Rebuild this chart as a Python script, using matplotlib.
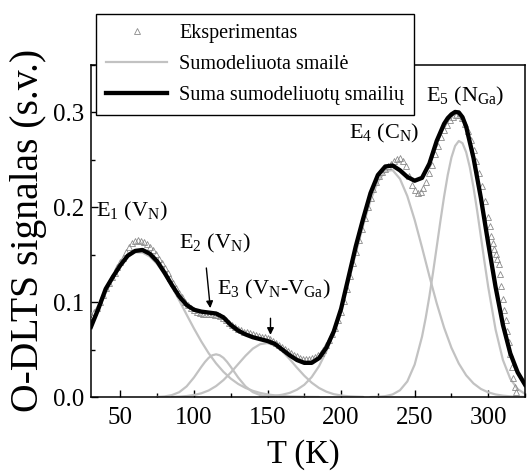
import numpy as np
import matplotlib
matplotlib.use("Agg")
import matplotlib.pyplot as plt
from matplotlib.lines import Line2D
from matplotlib.ticker import MultipleLocator, FormatStrFormatter

plt.rcParams['font.family'] = ['Liberation Serif', 'DejaVu Serif']
plt.rcParams['mathtext.fontset'] = 'custom'
plt.rcParams['mathtext.rm'] = 'Liberation Serif'
plt.rcParams['mathtext.it'] = 'Liberation Serif:italic'
plt.rcParams['mathtext.bf'] = 'Liberation Serif:bold'

# ---------------- data ----------------
# experimental O-DLTS signal
T_exp = list(range(30, 300, 2)) + list(range(300, 320, 1))
S_exp = [0.086, 0.090, 0.094, 0.100, 0.108, 0.115, 0.120, 0.126, 0.131, 0.137,
         0.142, 0.147, 0.153, 0.158, 0.162, 0.164, 0.165, 0.164, 0.163, 0.161,
         0.158, 0.155, 0.151, 0.146, 0.141, 0.136, 0.131, 0.125, 0.120, 0.115,
         0.110, 0.105, 0.100, 0.097, 0.094, 0.092, 0.090, 0.089, 0.088, 0.088,
         0.087, 0.087, 0.086, 0.086, 0.085, 0.083, 0.081, 0.078, 0.076, 0.074,
         0.072, 0.071, 0.069, 0.068, 0.067, 0.066, 0.065, 0.064, 0.063, 0.063,
         0.062, 0.061, 0.059, 0.057, 0.055, 0.053, 0.051, 0.048, 0.046, 0.044,
         0.043, 0.041, 0.040, 0.040, 0.040, 0.041, 0.042, 0.044, 0.046, 0.050,
         0.055, 0.060, 0.066, 0.073, 0.081, 0.090, 0.101, 0.114, 0.128, 0.141,
         0.153, 0.165, 0.177, 0.189, 0.200, 0.210, 0.219, 0.227, 0.233, 0.237,
         0.240, 0.243, 0.246, 0.249, 0.251, 0.252, 0.249, 0.243, 0.233, 0.224,
         0.218, 0.215, 0.216, 0.220, 0.227, 0.236, 0.245, 0.256, 0.265, 0.274,
         0.281, 0.287, 0.292, 0.295, 0.297, 0.297, 0.294, 0.288, 0.280, 0.271,
         0.260, 0.249, 0.236, 0.222, 0.207,
         0.190, 0.180, 0.170, 0.162, 0.156, 0.151, 0.146, 0.140, 0.130, 0.117,
         0.103, 0.092, 0.081, 0.070, 0.058, 0.045, 0.032, 0.020, 0.011, 0.005]

# modelled peaks
T_E1 = list(range(30, 190, 5))
E1 = [0.0758, 0.0928, 0.1098, 0.1255, 0.1386, 0.1479, 0.1526, 0.1523, 0.1480, 0.1401,
      0.1293, 0.1162, 0.1018, 0.0868, 0.0722, 0.0585, 0.0461, 0.0355, 0.0266, 0.0194,
      0.0138, 0.0096, 0.0065, 0.0043, 0.0027, 0.0017, 0.0010, 0.0006, 0.0004, 0.0002,
      0.0001, 0.0000]
T_E2 = [75, 80, 85, 90, 95, 100, 102.5, 105, 107.5, 110, 112.5, 115, 117.5, 120,
        122.5, 125, 127.5, 130, 135, 140, 145, 150, 155]
E2 = [0.0001, 0.0006, 0.0020, 0.0051, 0.0112, 0.0206, 0.0262, 0.0318, 0.0370, 0.0413,
      0.0440, 0.0450, 0.0440, 0.0413, 0.0370, 0.0318, 0.0262, 0.0206, 0.0112, 0.0051,
      0.0020, 0.0006, 0.0001]
T_E3 = list(range(85, 220, 5))
E3 = [0.0001, 0.0004, 0.0010, 0.0021, 0.0039, 0.0069, 0.0115, 0.0178, 0.0257, 0.0346,
      0.0434, 0.0510, 0.0557, 0.0569, 0.0542, 0.0482, 0.0400, 0.0309, 0.0224, 0.0151,
      0.0095, 0.0056, 0.0030, 0.0016, 0.0008, 0.0004, 0.0001]
T_E4 = list(range(145, 330, 5))
E4 = [0.0003, 0.0006, 0.0012, 0.0024, 0.0043, 0.0077, 0.0129, 0.0210, 0.0325, 0.0482,
      0.0685, 0.0933, 0.1215, 0.1516, 0.1811, 0.2073, 0.2270, 0.2381, 0.2392, 0.2300,
      0.2118, 0.1867, 0.1577, 0.1275, 0.0987, 0.0731, 0.0519, 0.0353, 0.0229, 0.0143,
      0.0085, 0.0049, 0.0027, 0.0014, 0.0007, 0.0003, 0.0002]
T_E5 = [220, 225, 230, 235, 240, 245, 250, 255, 257.5, 260, 262.5, 265, 267.5, 270,
        272.5, 275, 277.5, 280, 282.5, 285, 287.5, 290, 292.5, 295, 297.5, 300,
        305, 310, 315, 320, 325]
E5 = [0.0000, 0.0002, 0.0009, 0.0027, 0.0071, 0.0164, 0.0342, 0.0636, 0.0833, 0.1061,
      0.1314, 0.1583, 0.1855, 0.2113, 0.2342, 0.2525, 0.2647, 0.2699, 0.2676, 0.2581,
      0.2421, 0.2209, 0.1961, 0.1692, 0.1420, 0.1160, 0.0711, 0.0390, 0.0192, 0.0084,
      0.0033]

# sum of modelled peaks
T_fit = [30, 35, 40, 45, 50, 55, 60, 65, 70, 75, 80, 85, 90, 95, 100, 105, 110, 115,
         120, 125, 130, 135, 140, 145, 150, 155, 160, 165, 170, 175, 180, 185, 190,
         195, 200, 205, 210, 215, 220, 225, 230, 235, 240, 245, 250, 255, 260, 265,
         270, 272.5, 275, 277.5, 280, 282.5, 285, 290, 295, 300, 305, 310, 315, 320, 325]
S_fit = [0.074, 0.093, 0.114, 0.127, 0.139, 0.149, 0.154, 0.155, 0.151, 0.143,
         0.131, 0.118, 0.106, 0.097, 0.092, 0.090, 0.089, 0.088, 0.084, 0.076,
         0.070, 0.066, 0.063, 0.061, 0.059, 0.056, 0.050, 0.044, 0.039, 0.036,
         0.036, 0.041, 0.052, 0.069, 0.093, 0.126, 0.159, 0.188, 0.215, 0.234,
         0.243, 0.244, 0.239, 0.232, 0.228, 0.231, 0.246, 0.270, 0.288, 0.294,
         0.298, 0.3005, 0.300, 0.295, 0.285, 0.252, 0.210, 0.162, 0.116, 0.076,
         0.046, 0.026, 0.013]

labels = ['Eksperimentas', 'Sumodeliuota smailė', 'Suma sumodeliuotų smailių']
peak_labels = [r'E$_\mathrm{1}$ (V$_\mathrm{N}$)',
               r'E$_\mathrm{2}$ (V$_\mathrm{N}$)',
               r'E$_\mathrm{3}$ (V$_\mathrm{N}$-V$_\mathrm{Ga}$)',
               r'E$_\mathrm{4}$ (C$_\mathrm{N}$)',
               r'E$_\mathrm{5}$ (N$_\mathrm{Ga}$)']

# ---------------- figure ----------------
W, H = 531, 471
fig = plt.figure(figsize=(W / 100, H / 100), dpi=100)
ax = fig.add_axes([91 / W, 1 - 397 / H, (525 - 91) / W, (397 - 65) / H])

gray_c = '#c2c2c2'
tri_c = '#8a8a8a'

for tx, ty in [(T_E1, E1), (T_E2, E2), (T_E3, E3), (T_E4, E4), (T_E5, E5)]:
    ax.plot(tx, ty, color=gray_c, lw=1.6, zorder=2, solid_capstyle='round',
            solid_joinstyle='round')
ax.plot(T_exp, S_exp, ls='none', marker='^', ms=4.4, mfc='none', mec=tri_c, mew=0.6, zorder=3)
ax.plot(T_fit, S_fit, color='black', lw=3.1, zorder=4, solid_joinstyle='round')

ax.set_xlim(30, 325)
ax.set_ylim(0, 0.35)
ax.xaxis.set_major_locator(MultipleLocator(50))
ax.xaxis.set_minor_locator(MultipleLocator(25))
ax.yaxis.set_major_locator(MultipleLocator(0.1))
ax.yaxis.set_minor_locator(MultipleLocator(0.05))
ax.yaxis.set_major_formatter(FormatStrFormatter('%.1f'))
ax.tick_params(which='both', direction='in', top=False, right=False, width=1.0, color='black')
ax.tick_params(which='major', length=5, labelsize=18)
ax.tick_params(which='minor', length=3)
ax.tick_params(axis='x', which='major', pad=7)
ax.tick_params(axis='y', which='major', pad=5)
for s in ax.spines.values():
    s.set_linewidth(1.1)
    s.set_color('black')

ax.set_xlabel('T (K)', fontsize=23.5, va='center')
ax.xaxis.set_label_coords(0.49, -0.173)
ax.set_ylabel('O-DLTS signalas (s.v.)', fontsize=28.5, va='center', ha='center')
ax.yaxis.set_label_coords(-0.145, 0.503)

# peak annotations
ann_pos = [(33.7, 0.190), (90.0, 0.157), (115.5, 0.108), (205.5, 0.273), (257.4, 0.312)]
for (tx, ty), lab in zip(ann_pos, peak_labels):
    ax.text(tx, ty, lab, fontsize=16, ha='left', va='baseline', zorder=6)

arrow_kw = dict(arrowstyle='-|>', color='black', lw=1.0, mutation_scale=10,
                shrinkA=0, shrinkB=0)
ax.annotate('', xy=(111.1, 0.0937), xytext=(108.4, 0.136), arrowprops=arrow_kw, zorder=6)
ax.annotate('', xy=(152.0, 0.0655), xytext=(152.0, 0.083), arrowprops=arrow_kw, zorder=6)

handles = [Line2D([], [], ls='none', marker='^', ms=4.4, mfc='none', mec=tri_c, mew=0.6),
           Line2D([], [], color=gray_c, lw=1.6),
           Line2D([], [], color='black', lw=3.1)]
leg = ax.legend(handles, labels, loc='upper left',
                bbox_to_anchor=(96.4 / W, 1 - 13.5 / H), bbox_transform=fig.transFigure,
                fontsize=14.5, frameon=True, fancybox=False, edgecolor='black',
                framealpha=1, borderpad=0.5, handlelength=3.0, handletextpad=0.6,
                labelspacing=0.6, borderaxespad=0, numpoints=1)
leg.get_frame().set_linewidth(1.0)
leg.set_zorder(10)

fig.savefig('out.png', dpi=100)
